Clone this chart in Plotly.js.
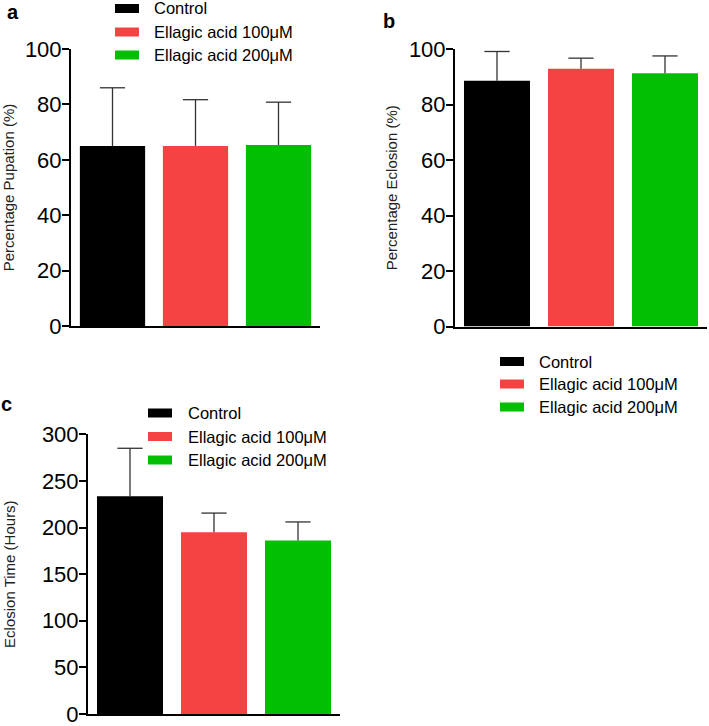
<!DOCTYPE html>
<html>
<head>
<meta charset="utf-8">
<script src="https://cdn.plot.ly/plotly-3.0.1.min.js"></script>
<style>html,body{margin:0;padding:0;background:#fff;}#chart{width:709px;height:726px;}</style>
</head>
<body>
<div id="chart"></div>
<script>
// ---- data ----
const categories = ['Control', 'Ellagic acid 100\u03bcM', 'Ellagic acid 200\u03bcM'];
const colors = ['#000000', '#F54343', '#03BF03'];

const pupationMean = [65, 65, 65.3];
const pupationErr = [21, 16.7, 15.5];

const eclosionMean = [88.6, 92.9, 91.3];
const eclosionErr = [10.5, 3.8, 6.2];

const eclosionTimeMean = [233.5, 195, 186];
const eclosionTimeErr = [51.5, 20.5, 20];

const yTicksPct = [0, 20, 40, 60, 80, 100];
const yTicksHours = [0, 50, 100, 150, 200, 250, 300];

const panels = [
  {mean: pupationMean, err: pupationErr, xa: 'x', ya: 'y'},
  {mean: eclosionMean, err: eclosionErr, xa: 'x2', ya: 'y2'},
  {mean: eclosionTimeMean, err: eclosionTimeErr, xa: 'x3', ya: 'y3'}
];

const errColor = '#333333';
const traces = [];
panels.forEach(p => {
  categories.forEach((c, i) => {
    traces.push({
      type: 'bar',
      name: c,
      x: [c], y: [p.mean[i]],
      xaxis: p.xa, yaxis: p.ya,
      width: 0.786,
      marker: {color: colors[i], line: {width: 0}},
      error_y: {type: 'data', symmetric: false, array: [p.err[i]], arrayminus: [0],
                color: errColor, thickness: 1.3, width: 0},
      showlegend: false,
      hoverinfo: 'skip'
    });
  });
  // error-bar caps (upper end only)
  traces.push({
    type: 'scatter', mode: 'markers',
    x: categories, y: p.mean.map((m, i) => m + p.err[i]),
    xaxis: p.xa, yaxis: p.ya,
    marker: {symbol: 'line-ew', size: 18, color: errColor, line: {color: errColor, width: 1.3}},
    showlegend: false, hoverinfo: 'skip', cliponaxis: false
  });
});

const W = 709, H = 726;
const px = v => v / W;
const py = v => 1 - v / H;
const FONT = 'Liberation Sans, Arial, sans-serif';

function xax(l, r) {
  return {domain: [px(l), px(r)], type: 'category', categoryorder: 'array', categoryarray: categories,
          range: [-0.5, 2.5], showticklabels: false, ticks: '', showline: true, linecolor: '#000',
          linewidth: 2, showgrid: false, zeroline: false, fixedrange: true};
}
function yax(bot, top, range, tickvals, title, anchor, standoff) {
  return {domain: [py(bot), py(top)], range: range, tickvals: tickvals, ticks: 'outside', ticklen: 7,
          tickwidth: 2, tickcolor: '#000', showline: true, linecolor: '#000', linewidth: 2,
          showgrid: false, zeroline: false, anchor: anchor, ticklabeloverflow: 'allow',
          ticklabelstandoff: -4,
          tickfont: {family: FONT, size: 22, color: '#000'},
          title: {text: title, standoff: standoff, font: {family: FONT, size: 15, color: '#222'}},
          fixedrange: true};
}

// legends drawn as swatch + text, one block per panel
const legendBlocks = [
  {swatchX: 115, textX: 153, rows: [8.5, 32, 55]},
  {swatchX: 500, textX: 538, rows: [361.5, 384, 407]},
  {swatchX: 148, textX: 187, rows: [413, 436.5, 460]}
];
const shapes = [];
const annotations = [];
legendBlocks.forEach(b => {
  categories.forEach((c, i) => {
    shapes.push({type: 'rect', xref: 'paper', yref: 'paper',
                 x0: px(b.swatchX), x1: px(b.swatchX + 24),
                 y0: py(b.rows[i] + 4.5), y1: py(b.rows[i] - 4.5),
                 fillcolor: colors[i], line: {width: 0}});
    annotations.push({text: c, xref: 'paper', yref: 'paper', x: px(b.textX), y: py(b.rows[i]),
                      xanchor: 'left', yanchor: 'middle', showarrow: false, borderpad: 0,
                      font: {family: FONT, size: 16.5, color: '#000'}});
  });
});

const labelFont = {family: FONT, size: 20, color: '#000', weight: 'bold'};
annotations.push(
  {text: 'a', xref: 'paper', yref: 'paper', x: px(6), y: 1, xanchor: 'left', yanchor: 'top', showarrow: false, font: labelFont, borderpad: 0},
  {text: 'b', xref: 'paper', yref: 'paper', x: px(382), y: py(21), xanchor: 'left', yanchor: 'middle', showarrow: false, font: labelFont, borderpad: 0},
  {text: 'c', xref: 'paper', yref: 'paper', x: px(0), y: py(404), xanchor: 'left', yanchor: 'middle', showarrow: false, font: labelFont, borderpad: 0}
);

const layout = {
  width: W, height: H,
  margin: {l: 0, r: 0, t: 0, b: 0},
  paper_bgcolor: '#fff', plot_bgcolor: '#fff',
  barmode: 'overlay',
  showlegend: false,
  xaxis: Object.assign(xax(71, 320), {anchor: 'y'}),
  yaxis: yax(326, 49, [0, 100], yTicksPct, 'Percentage Pupation (%)', 'x', 8),
  xaxis2: Object.assign(xax(455, 707), {anchor: 'y2'}),
  yaxis2: yax(326.5, 49, [0, 100], yTicksPct, 'Percentage Eclosion (%)', 'x2', 8),
  xaxis3: Object.assign(xax(88, 340), {anchor: 'y3'}),
  yaxis3: yax(714, 434.3, [0, 300], yTicksHours, 'Eclosion Time (Hours)', 'x3', 23),
  shapes: shapes,
  annotations: annotations
};

Plotly.newPlot('chart', traces, layout, {displayModeBar: false, staticPlot: true});
</script>
</body>
</html>
